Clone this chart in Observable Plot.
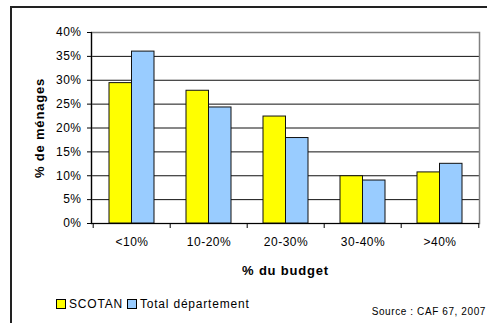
<!DOCTYPE html>
<html>
<head>
<meta charset="utf-8">
<script src="https://cdn.jsdelivr.net/npm/d3@7"></script>
<script src="https://cdn.jsdelivr.net/npm/@observablehq/plot@0.6"></script>
<style>
  body { margin: 0; background: #fff; }
  #wrap { position: relative; width: 487px; height: 323px; overflow: hidden; background: #fff;
          font-family: "Liberation Sans", Arial, sans-serif; }
  #border { position: absolute; left: 10px; top: 6px; width: 600px; height: 400px;
            border-left: 2px solid #222; border-top: 2px solid #222; }
  #chart { position: absolute; left: 0; top: 0; }
  #legend { position: absolute; left: 56px; top: 297px; font-size: 12px; letter-spacing: 0.8px; display: flex; align-items: center; color: #000; }
  #legend .sw { display: inline-block; width: 8px; height: 8px; border: 1px solid #000; margin-right: 3px; }
  #legend .item { display: flex; align-items: center; margin-right: 4px; }
  #source { position: absolute; right: 1px; top: 306px; font-size: 10px; letter-spacing: 0.6px; color: #000; }
</style>
</head>
<body>
<div id="wrap">
  <div id="border"></div>
  <div id="chart"></div>
  <div id="legend"></div>
  <div id="source">Source : CAF 67, 2007</div>
</div>
<script>
const categories = ["<10%", "10-20%", "20-30%", "30-40%", ">40%"];
const seriesNames = ["SCOTAN", "Total département"];
const scotan = [29.4, 27.8, 22.4, 9.9, 10.7];
const totalDep = [36.0, 24.3, 17.9, 9.0, 12.5];
const yTicks = [0, 5, 10, 15, 20, 25, 30, 35, 40];
const colors = ["#FFFF00", "#99CCFF"];

const scotanData = categories.map((c, i) => ({cat: c, series: seriesNames[0], value: scotan[i] / 100}));
const totalData = categories.map((c, i) => ({cat: c, series: seriesNames[1], value: totalDep[i] / 100}));
const yt = yTicks.map(d => d / 100);

const halfBar = 22.5;   // half of the group band width
const halfStep = 38.8;  // half of the category step

const chart = Plot.plot({
  width: 487,
  height: 290,
  marginLeft: 91,
  marginRight: 8,
  marginTop: 32,
  marginBottom: 67,
  style: { fontFamily: "Liberation Sans, Arial, sans-serif", fontSize: "12px", color: "#000", background: "transparent", letterSpacing: "0.5px" },
  x: { domain: categories, paddingInner: 0.42, paddingOuter: 0.21 },
  y: { domain: [0, 0.4] },
  color: { domain: seriesNames, range: colors },
  marks: [
    Plot.ruleY(yt, { stroke: "#111", strokeWidth: 1 }),
    Plot.frame({ stroke: "#808080", strokeWidth: 1.5 }),
    Plot.barY(scotanData, { x: "cat", y: "value", fill: "series", stroke: "#111", strokeWidth: 1, insetRight: halfBar }),
    Plot.barY(totalData, { x: "cat", y: "value", fill: "series", stroke: "#111", strokeWidth: 1, insetLeft: halfBar }),
    Plot.ruleY([0], { stroke: "#000", strokeWidth: 1.2 }),
    Plot.frame({ anchor: "left", stroke: "#000", strokeWidth: 1.2 }),
    Plot.axisY({ ticks: yt, tickFormat: d3.format(".0%"), tickSize: 4, tickPadding: 6,
                 label: "% de ménages", labelAnchor: "center", labelOffset: 57, labelArrow: "none" }),
    Plot.axisX({ anchor: "bottom", tickSize: 0, tickPadding: 14,
                 label: "% du budget", labelAnchor: "center", labelOffset: 51, labelArrow: "none" }),
    Plot.axisX({ anchor: "bottom", text: null, tickSize: 5, dx: -halfStep, label: null }),
    Plot.axisX({ anchor: "bottom", ticks: [categories[categories.length - 1]], text: null, tickSize: 5, dx: halfStep, label: null })
  ]
});
document.getElementById("chart").appendChild(chart);

chart.querySelectorAll("[aria-label='x-axis label'], [aria-label='y-axis label']").forEach(g => {
  g.setAttribute("font-weight", "bold");
  g.setAttribute("font-size", "13px");
  g.setAttribute("letter-spacing", "0.8px");
  g.querySelectorAll("text").forEach(t => { t.setAttribute("font-weight", "bold"); t.style.fontSize = "13px"; t.style.letterSpacing = "0.8px"; });
});

const legend = document.getElementById("legend");
seriesNames.forEach((s, i) => {
  const item = document.createElement("span");
  item.className = "item";
  const sw = document.createElement("span");
  sw.className = "sw";
  sw.style.background = colors[i];
  item.appendChild(sw);
  item.appendChild(document.createTextNode(s));
  legend.appendChild(item);
});
</script>
</body>
</html>
